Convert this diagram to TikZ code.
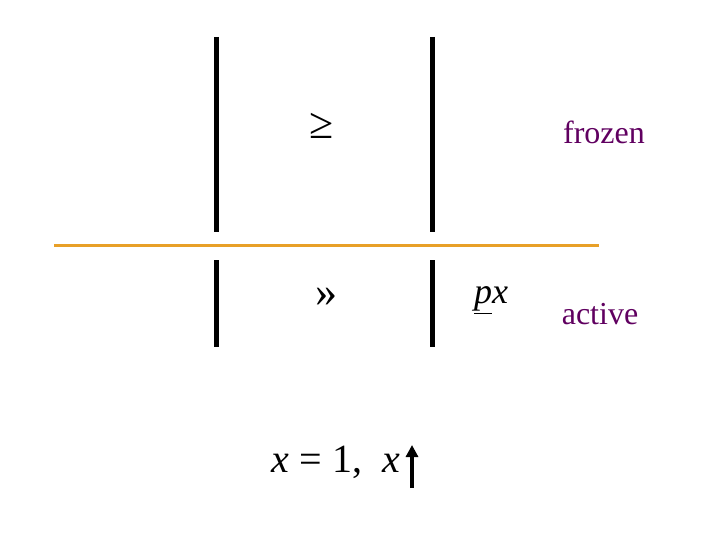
\documentclass[tikz,border=0pt]{standalone}
\usepackage{fontspec}
\usetikzlibrary{arrows.meta}
\setmainfont{Liberation Serif}
\definecolor{orng}{RGB}{232,160,40}
\definecolor{purp}{RGB}{96,0,96}
\begin{document}
\begin{tikzpicture}[x=1pt,y=-1pt,
  bar/.style={line width=5pt},
  lbl/.style={inner sep=0pt,anchor=center},
  purpl/.style={lbl,text=purp,font=\fontsize{32}{34}\selectfont}]
\useasboundingbox (0,0) rectangle (720,540);
\coordinate (b1t) at (216,37); \coordinate (b1b) at (216,232);
\coordinate (b2t) at (432,37); \coordinate (b2b) at (432,232);
\coordinate (b3t) at (216,260); \coordinate (b3b) at (216,347);
\coordinate (b4t) at (432,260); \coordinate (b4b) at (432,347);
\draw[bar] (b1t) -- (b1b);
\draw[bar] (b2t) -- (b2b);
\draw[bar] (b3t) -- (b3b);
\draw[bar] (b4t) -- (b4b);
\coordinate (ol) at (54,245); \coordinate (or) at (599,245);
\draw[orng,line width=3pt] (ol) -- (or);
\node[lbl,font=\fontsize{44}{46}\selectfont] (ge) at (322,126) {≥};
\node[purpl] (fr) at (604,132) {frozen};
\node[lbl,font=\fontsize{44}{46}\selectfont] (gg) at (326,297) {>>};
\node[lbl,font=\fontsize{36}{38}\selectfont] (px) at (491,300) {\textit{\underline{p}x}};
\node[purpl] (ac) at (600,314) {active};
\node[lbl,font=\fontsize{40}{42}\selectfont] (eq) at (336,462) {\textit{x} = 1,\ \ \textit{x}};
\coordinate (at) at (412,445); \coordinate (ab) at (412,488);
\draw[line width=3.5pt,-{Triangle[length=12pt,width=12pt]}] (ab) -- (at);
\end{tikzpicture}
\end{document}
